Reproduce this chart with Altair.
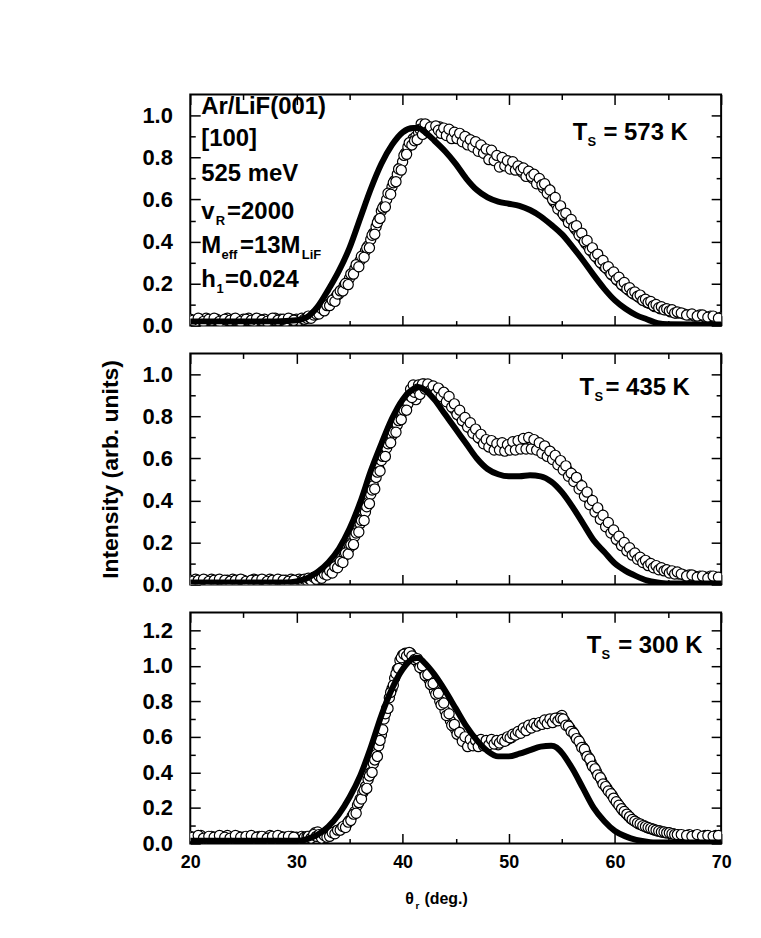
import altair as alt
import pandas as pd

# ---------------- data ----------------
# scan angles, first pass
SCAN_LOW = [20.0, 20.5, 21.0, 21.5, 22.0, 22.5, 23.0, 23.5, 24.0, 24.5,
            25.0, 25.5, 26.0, 26.5, 27.0, 27.5, 28.0, 28.5, 29.0, 29.5]
SCAN_MID = [30.0, 30.25, 30.5, 30.75, 31.0, 31.25, 31.5, 31.75,
            32.0, 32.25, 32.5, 32.75, 33.0, 33.25, 33.5, 33.75,
            34.0, 34.25, 34.5, 34.75, 35.0, 35.25, 35.5, 35.75,
            36.0, 36.25, 36.5, 36.75, 37.0, 37.25, 37.5, 37.75,
            38.0, 38.25, 38.5, 38.75, 39.0, 39.25, 39.5, 39.75,
            40.0, 40.25, 40.5, 40.75, 41.0, 41.25, 41.5, 41.75,
            42.0, 42.25, 42.5, 42.75, 43.0, 43.25, 43.5, 43.75,
            44.0, 44.25, 44.5, 44.75, 45.0, 45.25, 45.5, 45.75,
            46.0, 46.25, 46.5, 46.75, 47.0, 47.25, 47.5, 47.75,
            48.0, 48.25, 48.5, 48.75, 49.0, 49.25, 49.5, 49.75,
            50.0, 50.25, 50.5, 50.75, 51.0, 51.25, 51.5, 51.75,
            52.0, 52.25, 52.5, 52.75, 53.0, 53.25, 53.5, 53.75,
            54.0, 54.25, 54.5, 54.75, 55.0, 55.25, 55.5, 55.75,
            56.0, 56.25, 56.5, 56.75, 57.0, 57.25, 57.5, 57.75,
            58.0, 58.25, 58.5, 58.75, 59.0, 59.25, 59.5, 59.75,
            60.0, 60.25, 60.5, 60.75, 61.0, 61.25, 61.5, 61.75,
            62.0, 62.25, 62.5, 62.75, 63.0, 63.25, 63.5, 63.75,
            64.0, 64.25, 64.5, 64.75, 65.0, 65.25, 65.5, 65.75,
            66.0]
SCAN_HIGH = [66.5, 67.0, 67.5, 68.0, 68.5, 69.0, 69.5, 70.0]

# scan angles, second pass
SCAN_LOW_B = [20.25, 20.75, 21.25, 21.75, 22.25, 22.75, 23.25, 23.75, 24.25, 24.75,
              25.25, 25.75, 26.25, 26.75, 27.25, 27.75, 28.25, 28.75, 29.25, 29.75]
SCAN_MID_B = [31.125, 31.375, 31.625, 31.875, 32.125, 32.375, 32.625, 32.875,
              33.125, 33.375, 33.625, 33.875, 34.125, 34.375, 34.625, 34.875,
              35.125, 35.375, 35.625, 35.875, 36.125, 36.375, 36.625, 36.875,
              37.125, 37.375, 37.625, 37.875, 38.125, 38.375, 38.625, 38.875,
              39.125, 39.375, 39.625, 39.875, 40.125, 40.375, 40.625, 40.875,
              41.125, 41.375, 41.625, 41.875, 42.125, 42.375, 42.625, 42.875,
              43.125, 43.375, 43.625, 43.875, 44.125, 44.375, 44.625, 44.875,
              45.125, 45.375, 45.625, 45.875, 46.125, 46.375, 46.625, 46.875,
              47.125, 47.375, 47.625, 47.875, 48.125, 48.375, 48.625, 48.875,
              49.125, 49.375, 49.625, 49.875, 50.125, 50.375, 50.625, 50.875,
              51.125, 51.375, 51.625, 51.875, 52.125, 52.375, 52.625, 52.875,
              53.125, 53.375, 53.625, 53.875, 54.125, 54.375, 54.625, 54.875,
              55.125, 55.375, 55.625, 55.875, 56.125, 56.375, 56.625, 56.875,
              57.125, 57.375, 57.625, 57.875, 58.125, 58.375, 58.625, 58.875,
              59.125, 59.375, 59.625, 59.875, 60.125, 60.375, 60.625, 60.875,
              61.125, 61.375, 61.625, 61.875, 62.125, 62.375, 62.625, 62.875,
              63.125, 63.375, 63.625, 63.875, 64.125, 64.375, 64.625, 64.875,
              65.125, 65.375, 65.625, 65.875]
SCAN_HIGH_B = [66.25, 66.75, 67.25, 67.75, 68.25, 68.75, 69.25, 69.75]

SCAN = SCAN_LOW + SCAN_MID + SCAN_HIGH + SCAN_LOW_B + SCAN_MID_B + SCAN_HIGH_B

# measured intensities, Ts = 573 K
EXP573_A = ([0.03, 0.02, 0.03, 0.035, 0.025, 0.03, 0.02, 0.035, 0.03, 0.025,
             0.03, 0.035, 0.02, 0.03, 0.03, 0.025, 0.035, 0.03, 0.02, 0.03] +
            [0.03, 0.025, 0.035, 0.03, 0.035, 0.04, 0.045, 0.05,
             0.06, 0.065, 0.075, 0.09, 0.10, 0.11, 0.125, 0.14,
             0.15, 0.17, 0.19, 0.205, 0.225, 0.25, 0.27, 0.29,
             0.31, 0.33, 0.355, 0.38, 0.41, 0.44, 0.47, 0.505,
             0.545, 0.57, 0.60, 0.63, 0.66, 0.69, 0.72, 0.75,
             0.78, 0.82, 0.85, 0.87, 0.89, 0.90, 0.92, 0.96,
             0.93, 0.95, 0.92, 0.94, 0.935, 0.92, 0.945, 0.925,
             0.93, 0.915, 0.925, 0.90, 0.915, 0.90, 0.905, 0.885,
             0.895, 0.87, 0.88, 0.86, 0.865, 0.84, 0.85, 0.82,
             0.83, 0.80, 0.815, 0.79, 0.80, 0.775, 0.79, 0.765,
             0.78, 0.76, 0.765, 0.745, 0.755, 0.73, 0.74, 0.72,
             0.725, 0.70, 0.705, 0.68, 0.685, 0.655, 0.66, 0.625,
             0.62, 0.59, 0.575, 0.555, 0.54, 0.52, 0.51, 0.49,
             0.48, 0.46, 0.445, 0.425, 0.41, 0.39, 0.375, 0.355,
             0.34, 0.325, 0.31, 0.295, 0.28, 0.27, 0.255, 0.24,
             0.23, 0.215, 0.205, 0.19, 0.18, 0.17, 0.16, 0.15,
             0.145, 0.135, 0.125, 0.12, 0.11, 0.105, 0.10, 0.09,
             0.09, 0.08, 0.08, 0.075, 0.075, 0.065, 0.065, 0.06,
             0.06] +
            [0.055, 0.05, 0.045, 0.05, 0.04, 0.045, 0.035, 0.04])
EXP573_B = ([0.025, 0.035, 0.02, 0.03, 0.035, 0.02, 0.03, 0.025, 0.035, 0.02,
             0.03, 0.025, 0.035, 0.025, 0.02, 0.035, 0.025, 0.03, 0.035, 0.025] +
            [0.045, 0.035, 0.05, 0.055, 0.055, 0.08, 0.07, 0.095,
             0.095, 0.12, 0.115, 0.15, 0.165, 0.165, 0.20, 0.195,
             0.245, 0.245, 0.29, 0.28, 0.33, 0.325, 0.37, 0.37,
             0.43, 0.435, 0.49, 0.51, 0.56, 0.565, 0.63, 0.625,
             0.68, 0.685, 0.745, 0.74, 0.81, 0.815, 0.87, 0.86,
             0.88, 0.885, 0.935, 0.91, 0.96, 0.925, 0.945, 0.91,
             0.95, 0.93, 0.915, 0.94, 0.905, 0.935, 0.89, 0.92,
             0.89, 0.915, 0.875, 0.90, 0.86, 0.885, 0.85, 0.875,
             0.83, 0.86, 0.82, 0.84, 0.79, 0.835, 0.785, 0.81,
             0.755, 0.80, 0.76, 0.785, 0.745, 0.78, 0.74, 0.76,
             0.74, 0.75, 0.71, 0.735, 0.71, 0.72, 0.675, 0.70,
             0.67, 0.675, 0.63, 0.645, 0.60, 0.61, 0.555, 0.57,
             0.53, 0.535, 0.49, 0.505, 0.47, 0.475, 0.43, 0.44,
             0.40, 0.405, 0.36, 0.37, 0.33, 0.34, 0.30, 0.31,
             0.275, 0.28, 0.245, 0.255, 0.22, 0.23, 0.195, 0.205,
             0.175, 0.18, 0.155, 0.16, 0.14, 0.145, 0.12, 0.125,
             0.11, 0.115, 0.095, 0.10, 0.085, 0.09, 0.075, 0.08,
             0.07, 0.075, 0.06, 0.065] +
            [0.06, 0.05, 0.055, 0.045, 0.05, 0.04, 0.045, 0.035])

# measured intensities, Ts = 435 K
EXP435_A = ([0.02, 0.025, 0.015, 0.02, 0.025, 0.02, 0.015, 0.02, 0.025, 0.02,
             0.02, 0.015, 0.025, 0.02, 0.02, 0.025, 0.015, 0.02, 0.02, 0.025] +
            [0.02, 0.025, 0.02, 0.025, 0.02, 0.025, 0.03, 0.03,
             0.035, 0.035, 0.04, 0.05, 0.055, 0.065, 0.075, 0.09,
             0.10, 0.115, 0.135, 0.155, 0.175, 0.20, 0.23, 0.26,
             0.29, 0.315, 0.345, 0.39, 0.43, 0.47, 0.51, 0.555,
             0.59, 0.62, 0.65, 0.68, 0.71, 0.735, 0.76, 0.79,
             0.82, 0.84, 0.86, 0.93, 0.95, 0.88, 0.95, 0.94,
             0.955, 0.935, 0.95, 0.94, 0.93, 0.92, 0.91, 0.90,
             0.89, 0.87, 0.86, 0.84, 0.825, 0.81, 0.795, 0.78,
             0.765, 0.75, 0.735, 0.72, 0.71, 0.695, 0.69, 0.675,
             0.68, 0.665, 0.67, 0.655, 0.665, 0.65, 0.665, 0.645,
             0.665, 0.655, 0.67, 0.65, 0.675, 0.66, 0.685, 0.665,
             0.69, 0.665, 0.68, 0.655, 0.665, 0.64, 0.645, 0.62,
             0.625, 0.60, 0.595, 0.58, 0.57, 0.555, 0.545, 0.53,
             0.52, 0.50, 0.485, 0.465, 0.45, 0.43, 0.41, 0.39,
             0.375, 0.355, 0.34, 0.32, 0.30, 0.285, 0.265, 0.25,
             0.235, 0.22, 0.20, 0.19, 0.175, 0.165, 0.155, 0.145,
             0.135, 0.125, 0.12, 0.11, 0.10, 0.095, 0.09, 0.085,
             0.08, 0.075, 0.07, 0.07, 0.065, 0.06, 0.055, 0.055,
             0.05] +
            [0.045, 0.045, 0.04, 0.04, 0.035, 0.04, 0.035, 0.03])
EXP435_B = ([0.015, 0.02, 0.025, 0.015, 0.02, 0.025, 0.02, 0.015, 0.02, 0.025,
             0.015, 0.02, 0.02, 0.025, 0.015, 0.02, 0.025, 0.02, 0.015, 0.02] +
            [0.03, 0.02, 0.035, 0.025, 0.04, 0.03, 0.05, 0.045,
             0.065, 0.055, 0.085, 0.08, 0.11, 0.105, 0.15, 0.145,
             0.19, 0.19, 0.245, 0.25, 0.305, 0.305, 0.37, 0.385,
             0.45, 0.455, 0.535, 0.54, 0.61, 0.61, 0.67, 0.675,
             0.725, 0.725, 0.78, 0.785, 0.83, 0.83, 0.90, 0.89,
             0.915, 0.93, 0.905, 0.955, 0.93, 0.955, 0.925, 0.945,
             0.91, 0.935, 0.895, 0.915, 0.87, 0.895, 0.845, 0.86,
             0.81, 0.83, 0.78, 0.795, 0.75, 0.77, 0.72, 0.74,
             0.70, 0.715, 0.67, 0.69, 0.655, 0.685, 0.64, 0.67,
             0.64, 0.675, 0.635, 0.665, 0.64, 0.68, 0.64, 0.685,
             0.645, 0.695, 0.645, 0.70, 0.645, 0.69, 0.64, 0.675,
             0.625, 0.66, 0.61, 0.635, 0.595, 0.615, 0.57, 0.59,
             0.545, 0.565, 0.515, 0.53, 0.49, 0.51, 0.455, 0.47,
             0.42, 0.44, 0.38, 0.40, 0.345, 0.365, 0.31, 0.33,
             0.275, 0.295, 0.245, 0.26, 0.215, 0.23, 0.185, 0.20,
             0.16, 0.175, 0.14, 0.15, 0.12, 0.13, 0.105, 0.115,
             0.09, 0.10, 0.08, 0.09, 0.07, 0.08, 0.065, 0.07,
             0.055, 0.065, 0.05, 0.06] +
            [0.05, 0.04, 0.045, 0.035, 0.04, 0.03, 0.04, 0.035])

# measured intensities, Ts = 300 K
EXP300_A = ([0.04, 0.035, 0.045, 0.03, 0.04, 0.035, 0.04, 0.045, 0.03, 0.04,
             0.035, 0.04, 0.03, 0.04, 0.035, 0.045, 0.03, 0.04, 0.035, 0.04] +
            [0.035, 0.03, 0.04, 0.035, 0.04, 0.035, 0.045, 0.06,
             0.065, 0.04, 0.035, 0.04, 0.045, 0.05, 0.06, 0.07,
             0.075, 0.085, 0.095, 0.11, 0.13, 0.155, 0.18, 0.215,
             0.25, 0.285, 0.32, 0.36, 0.40, 0.45, 0.50, 0.55,
             0.61, 0.70, 0.76, 0.82, 0.87, 0.93, 0.98, 1.03,
             1.06, 1.07, 1.065, 1.07, 1.05, 1.03, 1.01, 0.99,
             0.97, 0.94, 0.92, 0.89, 0.86, 0.835, 0.80, 0.78,
             0.745, 0.72, 0.69, 0.66, 0.64, 0.615, 0.60, 0.58,
             0.56, 0.575, 0.555, 0.57, 0.56, 0.58, 0.555, 0.575,
             0.56, 0.575, 0.565, 0.57, 0.555, 0.57, 0.575, 0.58,
             0.59, 0.595, 0.61, 0.615, 0.625, 0.635, 0.64, 0.65,
             0.655, 0.66, 0.67, 0.665, 0.68, 0.685, 0.68, 0.695,
             0.69, 0.70, 0.695, 0.71, 0.72, 0.69, 0.67, 0.65,
             0.63, 0.605, 0.585, 0.56, 0.54, 0.51, 0.485, 0.455,
             0.43, 0.405, 0.38, 0.355, 0.33, 0.31, 0.29, 0.27,
             0.245, 0.225, 0.205, 0.185, 0.17, 0.155, 0.14, 0.13,
             0.12, 0.11, 0.105, 0.10, 0.09, 0.085, 0.08, 0.075,
             0.07, 0.07, 0.065, 0.06, 0.06, 0.055, 0.055, 0.05,
             0.05] +
            [0.045, 0.05, 0.045, 0.04, 0.045, 0.04, 0.045, 0.04])
EXP300_B = ([0.035, 0.045, 0.03, 0.04, 0.035, 0.045, 0.035, 0.03, 0.045, 0.035,
             0.04, 0.045, 0.035, 0.04, 0.03, 0.04, 0.045, 0.035, 0.04, 0.035] +
            [0.04, 0.03, 0.05, 0.04, 0.05, 0.03, 0.045, 0.035,
             0.04, 0.06, 0.055, 0.075, 0.075, 0.095, 0.09, 0.12,
             0.13, 0.165, 0.17, 0.23, 0.25, 0.30, 0.31, 0.38,
             0.40, 0.47, 0.49, 0.58, 0.64, 0.73, 0.76, 0.85,
             0.89, 0.955, 0.985, 1.045, 1.065, 1.055, 1.075, 1.055,
             1.035, 1.04, 0.99, 1.00, 0.945, 0.95, 0.895, 0.90,
             0.84, 0.845, 0.78, 0.79, 0.72, 0.73, 0.665, 0.67,
             0.615, 0.625, 0.575, 0.60, 0.545, 0.585, 0.55, 0.58,
             0.545, 0.585, 0.55, 0.58, 0.555, 0.585, 0.56, 0.58,
             0.565, 0.585, 0.575, 0.60, 0.595, 0.615, 0.61, 0.63,
             0.62, 0.65, 0.635, 0.665, 0.65, 0.675, 0.66, 0.68,
             0.67, 0.695, 0.675, 0.70, 0.68, 0.705, 0.69, 0.705,
             0.70, 0.665, 0.66, 0.63, 0.62, 0.59, 0.575, 0.54,
             0.53, 0.49, 0.475, 0.435, 0.42, 0.385, 0.37, 0.335,
             0.32, 0.295, 0.28, 0.255, 0.235, 0.215, 0.195, 0.18,
             0.165, 0.15, 0.135, 0.125, 0.115, 0.11, 0.10, 0.095,
             0.09, 0.085, 0.08, 0.075, 0.07, 0.065, 0.065, 0.06,
             0.06, 0.055, 0.05, 0.05] +
            [0.05, 0.045, 0.04, 0.05, 0.04, 0.045, 0.04, 0.045])

# calculated curves
CALC573_X = [20, 28, 30, 31, 32, 33, 34, 35, 36, 37, 38, 39, 40, 41, 41.5,
             42, 43, 44, 45, 46, 47, 48, 49, 50, 51, 52, 53, 54, 55, 56, 57,
             58, 59, 60, 61, 62, 63, 64, 65, 70]
CALC573_Y = [0.02, 0.02, 0.025, 0.04, 0.09, 0.17, 0.26, 0.37, 0.51, 0.65, 0.77,
             0.86, 0.92, 0.94, 0.94, 0.925, 0.88, 0.83, 0.77, 0.70, 0.645, 0.61,
             0.59, 0.58, 0.57, 0.55, 0.52, 0.48, 0.435, 0.375, 0.31, 0.24, 0.175,
             0.12, 0.08, 0.05, 0.03, 0.012, 0.006, 0.005]

CALC435_X = [20, 29, 30, 31, 32, 33, 34, 35, 36, 37, 38, 39, 40, 41, 41.5,
             42, 43, 44, 45, 46, 47, 48, 49, 50, 51, 52, 53, 54, 55, 56, 57,
             58, 59, 60, 61, 62, 63, 64, 65, 70]
CALC435_Y = [0.01, 0.01, 0.015, 0.03, 0.06, 0.105, 0.17, 0.265, 0.39, 0.54, 0.67,
             0.79, 0.88, 0.93, 0.94, 0.93, 0.88, 0.81, 0.74, 0.67, 0.60, 0.55,
             0.525, 0.515, 0.515, 0.52, 0.515, 0.49, 0.44, 0.37, 0.29, 0.21,
             0.155, 0.10, 0.065, 0.04, 0.02, 0.01, 0.005, 0.005]

CALC300_X = [20, 29, 30, 31, 32, 33, 34, 35, 36, 37, 38, 39, 40, 41, 41.5,
             42, 43, 44, 45, 46, 47, 48, 49, 50, 51, 52, 53, 54, 54.5, 55, 56,
             57, 58, 59, 60, 61, 62, 63, 64, 65, 70]
CALC300_Y = [0.015, 0.015, 0.015, 0.025, 0.05, 0.095, 0.165, 0.26, 0.38, 0.54,
             0.72, 0.87, 0.98, 1.04, 1.045, 1.02, 0.95, 0.86, 0.76, 0.66, 0.58,
             0.52, 0.49, 0.49, 0.505, 0.525, 0.545, 0.55, 0.54, 0.51, 0.42,
             0.31, 0.20, 0.125, 0.07, 0.04, 0.02, 0.01, 0.005, 0.005, 0.005]

X_MAJOR = [20, 30, 40, 50, 60, 70]
X_MINOR = [25, 35, 45, 55, 65]
Y_MAJOR_11 = [0.0, 0.2, 0.4, 0.6, 0.8, 1.0]
Y_MINOR_11 = [0.1, 0.3, 0.5, 0.7, 0.9]
Y_MAJOR_13 = [0.0, 0.2, 0.4, 0.6, 0.8, 1.0, 1.2]
Y_MINOR_13 = [0.1, 0.3, 0.5, 0.7, 0.9, 1.1]

# annotations: (text, x-position in deg, y-position in intensity, font size)
ANN573_MAIN = [
    ("Ar/LiF(001)", 21.03, 1.006, 24),
    ("[100]", 21.03, 0.853, 24),
    ("525 meV", 21.03, 0.687, 24),
    ("v", 21.03, 0.509, 24), ("=2000", 23.47, 0.509, 24),
    ("M", 21.03, 0.345, 24), ("=13M", 24.69, 0.345, 24),
    ("h", 21.03, 0.182, 24), ("=0.024", 23.28, 0.182, 24),
    ("T", 56.02, 0.885, 24), ("= 573 K", 58.92, 0.885, 24),
]
ANN573_SUB = [
    ("R", 22.39, 0.481, 13), ("eff", 22.95, 0.317, 13), ("LiF", 30.50, 0.317, 13),
    ("1", 22.48, 0.154, 13), ("S", 57.42, 0.856, 13),
]
ANN435_MAIN = [("T", 56.67, 0.900, 24), ("= 435 K", 59.11, 0.900, 24)]
ANN435_SUB = [("S", 58.08, 0.872, 13)]
ANN300_MAIN = [
    ("T", 57.34, 1.074, 24), ("= 300 K", 60.30, 1.074, 24),
    ("θ", 40.25, -0.342, 16), ("(deg.)", 42.05, -0.342, 16),
]
ANN300_SUB = [("S", 58.74, 1.040, 13), ("r", 41.22, -0.366, 10)]

# ---------------- chart ----------------
FONT = "Liberation Sans"
W, H = 533, 232
MAJ, MIN = 10, 5


def tick_axis(orient, values, size, **kw):
    d = dict(orient=orient, values=values, domain=False, grid=False, ticks=True,
             tickSize=size, offset=-size, tickColor="black", tickWidth=1.5,
             labels=False, title=None)
    d.update(kw)
    return alt.Axis(**d)


def y_left_major(vals, title=None):
    kw = dict(labels=True, format=".1f", labelFont=FONT, labelFontSize=22,
              labelFontWeight="bold", labelColor="black", labelPadding=18,
              labelOverlap=False, labelFlush=False)
    if title:
        kw.update(title=title, titleFont=FONT, titleFontSize=23,
                  titleFontWeight="bold", titleColor="black", titlePadding=19)
    return tick_axis("left", vals, MAJ, **kw)


def x_bottom_major(show_labels):
    if show_labels:
        return tick_axis("bottom", X_MAJOR, MAJ, labels=True, format="d",
                         labelFont=FONT, labelFontSize=18, labelFontWeight="bold",
                         labelColor="black", labelPadding=10, labelFlush=False,
                         labelOverlap=False)
    return tick_axis("bottom", X_MAJOR, MAJ)


def text_layer(ann, xs, ys, x_axis, y_axis):
    adf = pd.DataFrame(ann, columns=["label", "theta", "I", "fs"])
    return alt.Chart(adf).mark_text(
        align="left", baseline="alphabetic", font=FONT, fontWeight="bold",
        color="black"
    ).encode(
        x=alt.X("theta:Q", scale=xs, axis=x_axis),
        y=alt.Y("I:Q", scale=ys, axis=y_axis),
        text="label:N",
        size=alt.Size("fs:Q", scale=None, legend=None),
    )


def panel(exp_a, exp_b, cx, cy, ymax, ymaj, ymin, ann_main, ann_sub,
          ytitle=None, xlabels=False):
    cdf = pd.DataFrame({"theta": SCAN, "I": exp_a + exp_b})
    ldf = pd.DataFrame({"theta": cx, "I": cy})
    xs = alt.Scale(domain=[20, 70], nice=False, zero=False)
    ys = alt.Scale(domain=[0, ymax], nice=False, zero=False)

    pts = alt.Chart(cdf).mark_point(
        shape="circle", filled=True, fill="white", stroke="black",
        strokeWidth=1.2, size=105, opacity=1, clip=True
    ).encode(
        x=alt.X("theta:Q", scale=xs, axis=x_bottom_major(xlabels)),
        y=alt.Y("I:Q", scale=ys, axis=y_left_major(ymaj, ytitle)),
    )
    ln = alt.Chart(ldf).mark_line(
        color="black", strokeWidth=6, interpolate="monotone", clip=True
    ).encode(
        x=alt.X("theta:Q", scale=xs, axis=tick_axis("top", X_MAJOR, MAJ)),
        y=alt.Y("I:Q", scale=ys, axis=tick_axis("right", ymaj, MAJ)),
    )
    t_main = text_layer(ann_main, xs, ys,
                        tick_axis("bottom", X_MINOR, MIN),
                        tick_axis("left", ymin, MIN))
    t_sub = text_layer(ann_sub, xs, ys,
                       tick_axis("top", X_MINOR, MIN),
                       tick_axis("right", ymin, MIN))
    return (alt.layer(pts, ln, t_main, t_sub)
            .resolve_axis(x="independent", y="independent")
            .properties(width=W, height=H))


p1 = panel(EXP573_A, EXP573_B, CALC573_X, CALC573_Y, 1.1, Y_MAJOR_11, Y_MINOR_11,
           ANN573_MAIN, ANN573_SUB)
p2 = panel(EXP435_A, EXP435_B, CALC435_X, CALC435_Y, 1.1, Y_MAJOR_11, Y_MINOR_11,
           ANN435_MAIN, ANN435_SUB, ytitle="Intensity (arb. units)")
p3 = panel(EXP300_A, EXP300_B, CALC300_X, CALC300_Y, 1.3, Y_MAJOR_13, Y_MINOR_13,
           ANN300_MAIN, ANN300_SUB, xlabels=True)

chart = (
    alt.vconcat(p1, p2, p3, spacing=28)
    .properties(bounds="flush", background="white",
                padding={"left": 91, "top": 83, "right": 20, "bottom": 10})
    .configure_view(stroke="black", strokeWidth=2)
)

chart.save("out.html", embed_options={"renderer": "svg", "actions": False})
